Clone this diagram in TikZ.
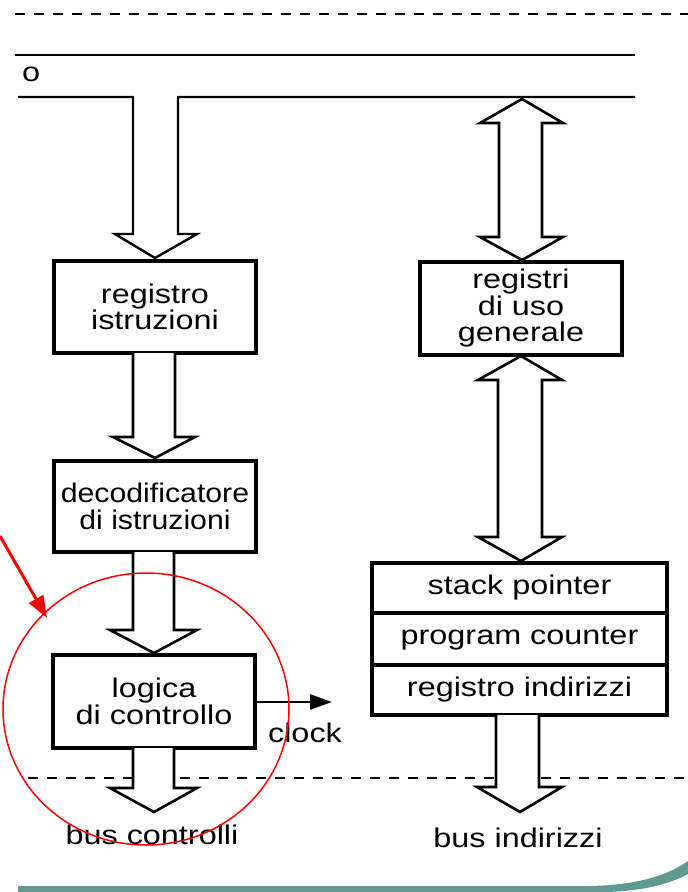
\documentclass[tikz,border=0pt]{standalone}
\usepackage{fontspec}
\setmainfont{Liberation Sans}[FakeStretch=1.2]
\newfontfamily\narrowsans{Liberation Sans}[FakeStretch=1.12]
\usetikzlibrary{arrows.meta,calc}
\definecolor{barteal}{RGB}{96,152,146}
\begin{document}
\begin{tikzpicture}[x=1pt,y=-1pt,
  blk/.style={draw,line width=3.5pt,minimum width=202pt,inner sep=0pt,align=center,
    font=\fontsize{27}{26.5}\selectfont},
  reg/.style={draw,line width=3.5pt,minimum width=295pt,inner sep=0pt,align=center,
    font=\fontsize{27}{26.5}\selectfont},
  lbl/.style={inner sep=0pt,font=\fontsize{27}{26.5}\selectfont},
  barrow/.style={draw,line width=2.6pt,fill=white,line join=miter},
  busline/.style={line width=2pt},
  cut/.style={line width=2pt,dashed,dash pattern=on 10pt off 9pt},
]
\useasboundingbox (0,0) rectangle (688,892);

% dashed boundaries
\draw[cut,line width=2.6pt] (15,14) -- (688,14);
\draw[cut] (28,778) -- (688,778);

% bus lines
\draw[busline] (15,55) -- (635,55);
\node[lbl,anchor=west] (olabel) at (22,74) {o};

% boxes
\node[blk,minimum height=92pt] (ri) at (155,307) {registro\\istruzioni};
\node[blk,minimum height=91pt,font=\narrowsans\fontsize{27}{26.5}\selectfont] (dec) at (155,506.5) {decodificatore\\di istruzioni};
\node[blk,minimum height=93pt] (lc) at (154,701.5) {logica\\di controllo};
\node[blk,minimum height=93pt] (rug) at (521,308.5) {registri\\di uso\\generale};
\node[reg,minimum height=50pt] (sp) at (519.5,588) {stack pointer};
\node[reg,minimum height=52pt] (pc) at (519.5,639) {program counter};
\node[reg,minimum height=50pt] (rind) at (519.5,690) {registro indirizzi};

% bus with down arrow to registro istruzioni
\draw[barrow,fill=none,line width=2.4pt] (18,97) -- (133,97) -- (133,234) -- (115,234) -- (155,258)
  -- (197,234) -- (178,234) -- (178,97) -- (635,97);

% left column arrows
\draw[barrow] (133,353) -- (133,437) -- (113,437) -- (155,458) -- (195,437) -- (175,437) -- (175,353);
\draw[barrow] (133,552) -- (133,630) -- (110,630) -- (154,653) -- (197,630) -- (174,630) -- (174,552);
\draw[barrow] (133,748) -- (133,788) -- (110,788) -- (154,812) -- (197,788) -- (174,788) -- (174,748);

% right column double arrows
\draw[barrow] (522,99) -- (563,123) -- (542,123) -- (542,237) -- (563,237) -- (522,260)
  -- (480,237) -- (499,237) -- (499,123) -- (480,123) -- cycle;
\draw[barrow] (521,356) -- (562,380) -- (542,380) -- (542,537) -- (562,537) -- (521,561)
  -- (478,537) -- (498,537) -- (498,380) -- (478,380) -- cycle;
\draw[barrow] (496,715) -- (496,787) -- (477,787) -- (520,812) -- (562,787) -- (539,787) -- (539,715);

% clock
\coordinate (clkend) at (332,702);
\draw[line width=2.8pt,-{Triangle[length=22pt,width=15pt]}] (lc.east |- clkend) -- (clkend);
\node[lbl] (clk) at (305,733) {clock};

% bus labels
\node[lbl] (busc) at (152,835) {bus controlli};
\node[lbl] (busi) at (518,838) {bus indirizzi};

% red highlight
\draw[red,line width=1.5pt] (146,709) ellipse [x radius=143, y radius=136];
\coordinate (redstart) at (0,536);
\coordinate (redtip) at (47,618);
\draw[red,line width=3pt,-{Triangle[length=22pt,width=16pt]}] (redstart) -- (redtip);

% bottom teal bar
\fill[barteal] (18,886) -- (590,886) .. controls (640,885) and (670,874) .. (688,861)
  -- (688,874) .. controls (670,884) and (640,892) .. (600,892) -- (18,892) -- cycle;
\end{tikzpicture}
\end{document}
